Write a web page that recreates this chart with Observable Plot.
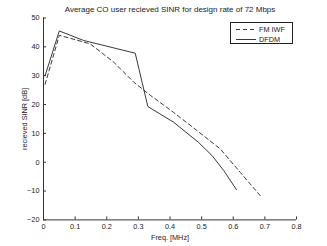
<!DOCTYPE html>
<html>
<head>
<meta charset="utf-8">
<script src="https://cdn.jsdelivr.net/npm/d3@7"></script>
<script src="https://cdn.jsdelivr.net/npm/@observablehq/plot@0.6"></script>
<style>
  html, body { margin: 0; padding: 0; background: #fff; }
  #wrap { position: relative; width: 327px; height: 246px; font-family: "Liberation Sans", Arial, sans-serif; color: #222; }
  #title { height: 13px; line-height: 13px; font-size: 8px; text-align: center; padding-left: 13px; padding-top: 3px; box-sizing: border-box; white-space: nowrap; }
  #legend { position: absolute; left: 230px; top: 22px; width: 63px; height: 22px; border: 1px solid #222; background: #fff; box-sizing: border-box; font-size: 7px; }
  #legend svg { position: absolute; left: 0; top: 0; }
</style>
</head>
<body>
<div id="wrap">
  <div id="title">Average CO user recieved SINR for design rate of 72 Mbps</div>
  <div id="chart"></div>
  <div id="legend"></div>
</div>
<script>
// Series: FM IWF (dashed)
const fmFreq = [0.005, 0.05, 0.1, 0.148, 0.222, 0.286, 0.339, 0.411, 0.485, 0.559, 0.622, 0.69];
const fmSinr = [27, 44, 42.5, 41, 34.7, 27.7, 23.1, 17.3, 11, 4.6, -3.5, -12.2];
// Series: DFDM (solid)
const dfFreq = [0.005, 0.05, 0.127, 0.29, 0.33, 0.411, 0.49, 0.533, 0.57, 0.61];
const dfSinr = [30, 45.5, 42.2, 37.8, 19.3, 13.9, 6.9, 2.3, -2.9, -9.5];
const xTicks = [0, 0.1, 0.2, 0.3, 0.4, 0.5, 0.6, 0.7, 0.8];
const yTicks = [-20, -10, 0, 10, 20, 30, 40, 50];
const seriesNames = ["FM IWF", "DFDM"];
const title = "Average CO user recieved SINR for design rate of 72 Mbps";
const xLabel = "Freq. [MHz]";
const yLabel = "recieved SINR [dB]";

const fm = fmFreq.map((f, i) => ({f, v: fmSinr[i]}));
const df = dfFreq.map((f, i) => ({f, v: dfSinr[i]}));

const chart = Plot.plot({
  width: 327,
  height: 233,
  marginLeft: 43,
  marginRight: 31,
  marginTop: 4.5,
  marginBottom: 26.6,
  style: {fontFamily: "Liberation Sans, Arial, sans-serif", fontSize: "7.3px", color: "#222", background: "white"},
  x: {domain: [0, 0.8]},
  y: {domain: [-20, 50]},
  marks: [
    Plot.ruleY([-20], {stroke: "#333", strokeWidth: 1}),
    Plot.ruleX([0], {stroke: "#333", strokeWidth: 1}),
    Plot.axisX({ticks: xTicks, tickSize: -3, tickPadding: 7, tickFormat: d => d === 0 ? "0" : d3.format(".1f")(d), label: xLabel, labelAnchor: "center", labelArrow: "none", labelOffset: 20, stroke: "#333"}),
    Plot.axisY({ticks: yTicks, tickSize: -3, tickPadding: 7, tickFormat: d => d < 0 ? "\u2212" + Math.abs(d) : String(d), label: yLabel, labelAnchor: "center", labelArrow: "none", labelOffset: 22, stroke: "#333"}),
    Plot.line(fm, {x: "f", y: "v", stroke: "#222", strokeWidth: 0.9, strokeDasharray: "4,3"}),
    Plot.line(df, {x: "f", y: "v", stroke: "#222", strokeWidth: 0.9})
  ]
});
document.getElementById("chart").appendChild(chart);

// Legend
const leg = d3.select("#legend").append("svg").attr("width", 63).attr("height", 22);
seriesNames.forEach((name, i) => {
  const y = 6.5 + i * 10;
  leg.append("line").attr("x1", 5).attr("x2", 25).attr("y1", y).attr("y2", y)
    .attr("stroke", "#222").attr("stroke-width", 0.9)
    .attr("stroke-dasharray", i === 0 ? "4,3" : null);
  leg.append("text").attr("x", 28).attr("y", y).attr("dy", "0.35em")
    .attr("font-size", 7.3).attr("fill", "#222").attr("font-family", "Liberation Sans, Arial, sans-serif").text(name);
});
</script>
</body>
</html>
